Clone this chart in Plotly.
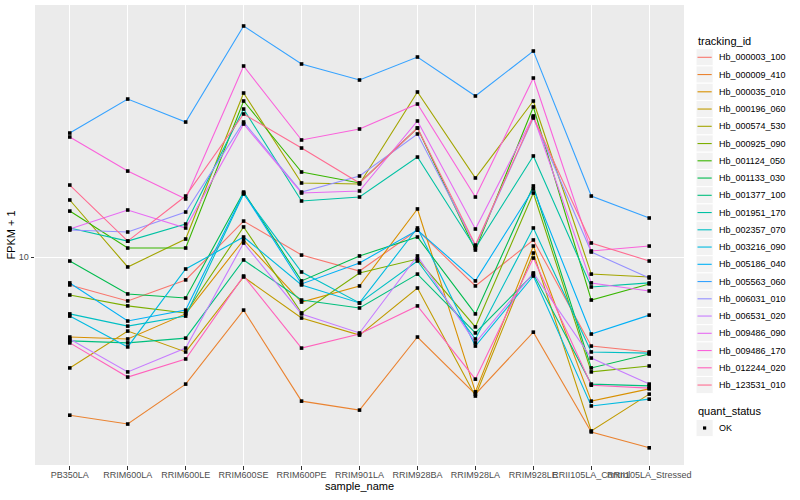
import plotly.graph_objects as go

samples = ["PB350LA", "RRIM600LA", "RRIM600LE", "RRIM600SE", "RRIM600PE", "RRIM901LA",
           "RRIM928BA", "RRIM928LA", "RRIM928LE", "RRII105LA_Control", "RRII105LA_Stressed"]

tracking_ids = ["Hb_000003_100", "Hb_000009_410", "Hb_000035_010", "Hb_000196_060",
                "Hb_000574_530", "Hb_000925_090", "Hb_001124_050", "Hb_001133_030",
                "Hb_001377_100", "Hb_001951_170", "Hb_002357_070", "Hb_003216_090",
                "Hb_005186_040", "Hb_005563_060", "Hb_006031_010", "Hb_006531_020",
                "Hb_009486_090", "Hb_009486_170", "Hb_012244_020", "Hb_123531_010"]

colors = ["#F8766D", "#EA8331", "#D89000", "#C09B00", "#A3A500", "#7CAE00", "#39B600",
          "#00BB4E", "#00BF7D", "#00C1A3", "#00BFC4", "#00BAE0", "#00B0F6", "#35A2FF",
          "#9590FF", "#C77CFF", "#E76BF3", "#FA62DB", "#FF62BC", "#FF6C91"]

# FPKM + 1 per sample (in sample order)
hb_000003_100 = [8.53, 7.78, 8.78, 12.32, 10.13, 9.24, 11.70, 8.48, 11.05, 6.00, 5.80]
hb_000009_410 = [4.03, 3.83, 4.82, 7.38, 4.37, 4.15, 6.32, 4.55, 6.50, 3.66, 3.34]
hb_000035_010 = [6.32, 6.25, 7.22, 11.05, 7.73, 8.48, 13.21, 4.61, 10.67, 4.37, 4.69]
hb_000196_060 = [5.29, 6.54, 5.80, 8.93, 7.05, 6.39, 8.38, 4.50, 10.25, 3.68, 4.55]
hb_000574_530 = [13.91, 9.46, 11.11, 25.75, 15.34, 15.25, 25.90, 15.79, 24.59, 9.08, 8.93]
hb_000925_090 = [8.05, 7.56, 7.26, 11.91, 7.26, 9.14, 9.90, 6.70, 14.48, 5.17, 5.35]
hb_001124_050 = [13.05, 10.55, 10.55, 24.59, 16.34, 15.34, 21.05, 10.43, 23.76, 7.82, 8.58]
hb_001133_030 = [9.79, 8.10, 7.91, 14.56, 8.73, 10.08, 11.24, 7.22, 15.08, 5.29, 5.73]
hb_001377_100 = [6.18, 6.11, 6.28, 9.85, 7.82, 7.47, 9.08, 6.47, 9.08, 4.82, 4.77]
hb_001951_170 = [11.84, 10.98, 12.11, 23.48, 13.83, 14.15, 17.81, 10.55, 17.92, 8.43, 8.63]
hb_002357_070 = [7.22, 6.73, 7.13, 14.40, 9.19, 7.69, 9.79, 6.25, 11.84, 5.80, 5.76]
hb_003216_090 = [7.13, 5.97, 9.35, 11.24, 8.53, 7.69, 11.84, 6.00, 8.98, 4.25, 4.42]
hb_005186_040 = [8.63, 6.93, 7.38, 14.48, 8.58, 9.68, 11.70, 8.73, 14.82, 6.43, 7.17]
hb_005563_060 = [20.45, 24.87, 21.79, 37.87, 30.43, 27.75, 31.68, 25.31, 32.79, 14.23, 12.54]
hb_006031_010 = [11.70, 11.57, 12.98, 21.79, 14.56, 15.97, 20.34, 10.67, 22.30, 10.31, 8.88]
hb_006531_020 = [6.25, 5.17, 5.93, 10.86, 7.22, 6.47, 10.08, 6.11, 9.14, 5.60, 4.82]
hb_009486_090 = [11.77, 13.13, 11.84, 21.54, 14.48, 14.65, 21.92, 11.77, 22.56, 8.63, 8.24]
hb_009486_170 = [19.99, 16.43, 13.99, 30.08, 19.65, 20.93, 24.17, 14.15, 28.07, 10.37, 10.67]
hb_012244_020 = [6.11, 5.02, 5.57, 8.98, 5.93, 6.43, 7.56, 4.96, 9.96, 4.79, 4.71]
hb_123531_010 = [15.16, 10.98, 14.23, 22.82, 18.76, 15.34, 21.05, 10.73, 22.43, 10.86, 9.79]

series = [hb_000003_100, hb_000009_410, hb_000035_010, hb_000196_060, hb_000574_530,
          hb_000925_090, hb_001124_050, hb_001133_030, hb_001377_100, hb_001951_170,
          hb_002357_070, hb_003216_090, hb_005186_040, hb_005563_060, hb_006031_010,
          hb_006531_020, hb_009486_090, hb_009486_170, hb_012244_020, hb_123531_010]

quant_status = ["OK"]

W, H = 800, 500
ML, MR, MT, MB = 35, 116, 5, 35
PW, PH = W - ML - MR, H - MT - MB

AXIS_FONT = "Liberation Sans Narrow, Liberation Sans, Arial, sans-serif"
LEG_FONT = "Liberation Sans, Arial, sans-serif"

fig = go.Figure()
for name, col, vals in zip(tracking_ids, colors, series):
    fig.add_trace(go.Scatter(x=samples, y=vals, mode="lines", name=name,
                             line=dict(color=col, width=1.1), showlegend=False))

all_x = [s for vals in series for s in samples]
all_y = [v for vals in series for v in vals]
fig.add_trace(go.Scatter(x=all_x, y=all_y, mode="markers", name=quant_status[0],
                         marker=dict(color="black", size=3.6, symbol="square"),
                         showlegend=False))


def px(xp):
    return (xp - ML) / PW


def py(yp):
    return 1 - (yp - MT) / PH


shapes = []
annotations = []
# tracking_id legend
annotations.append(dict(text="tracking_id", x=px(696), y=py(40.5), xref="paper", yref="paper",
                        xanchor="left", yanchor="middle", showarrow=False,
                        font=dict(family=LEG_FONT, size=11, color="black")))
step = 17.25
for i, (name, col) in enumerate(zip(tracking_ids, colors)):
    cy = 57.3 + i * step
    shapes.append(dict(type="rect", xref="paper", yref="paper",
                       x0=px(696), x1=px(713.2), y0=py(cy - step / 2), y1=py(cy + step / 2),
                       fillcolor="#F2F2F2", line=dict(color="white", width=1)))
    shapes.append(dict(type="line", xref="paper", yref="paper",
                       x0=px(697.5), x1=px(711.7), y0=py(cy), y1=py(cy),
                       line=dict(color=col, width=1.1)))
    annotations.append(dict(text=name, x=px(716.5), y=py(cy), xref="paper", yref="paper",
                            xanchor="left", yanchor="middle", showarrow=False,
                            font=dict(family=LEG_FONT, size=9, color="black")))

# quant_status legend
annotations.append(dict(text="quant_status", x=px(696), y=py(411), xref="paper", yref="paper",
                        xanchor="left", yanchor="middle", showarrow=False,
                        font=dict(family=LEG_FONT, size=11, color="black")))
cy = 428
shapes.append(dict(type="rect", xref="paper", yref="paper",
                   x0=px(696), x1=px(713.2), y0=py(cy - step / 2), y1=py(cy + step / 2),
                   fillcolor="#F2F2F2", line=dict(color="white", width=1)))
shapes.append(dict(type="rect", xref="paper", yref="paper",
                   x0=px(703), x1=px(706.2), y0=py(cy - 1.6), y1=py(cy + 1.6),
                   fillcolor="black", line=dict(color="black", width=0)))
annotations.append(dict(text=quant_status[0], x=px(716.5), y=py(cy), xref="paper", yref="paper",
                        xanchor="left", yanchor="middle", showarrow=False,
                        font=dict(family=LEG_FONT, size=9, color="black")))

fig.update_layout(
    width=W, height=H,
    margin=dict(l=ML, r=MR, t=MT, b=MB, autoexpand=False),
    paper_bgcolor="white", plot_bgcolor="#EBEBEB",
    showlegend=False,
    shapes=shapes, annotations=annotations,
    xaxis=dict(type="category", categoryorder="array", categoryarray=samples,
               range=[-0.6, len(samples) - 0.4], showgrid=True, gridcolor="white", gridwidth=1.1,
               zeroline=False, showline=False, ticks="outside", ticklen=3.5, tickwidth=1,
               tickcolor="#333333", tickangle=0, automargin=False, ticklabelstandoff=-2,
               tickfont=dict(family=AXIS_FONT, size=9, color="#4D4D4D"),
               title=dict(text="sample_name", standoff=0,
                          font=dict(family=AXIS_FONT, size=11, color="black"))),
    yaxis=dict(type="log", range=[0.4808, 1.6308], tickvals=[10], ticktext=["10"],
               showgrid=True, gridcolor="white", gridwidth=1.1, zeroline=False, showline=False,
               ticks="outside", ticklen=3.5, tickwidth=1, tickcolor="#333333", automargin=False,
               tickfont=dict(family=AXIS_FONT, size=9, color="#4D4D4D"),
               title=dict(text="FPKM + 1", standoff=0,
                          font=dict(family=AXIS_FONT, size=11, color="black"))),
)

fig.write_html("out.html", config={"displayModeBar": False},
               post_script="document.body.style.margin='0px';document.body.style.overflow='hidden';")
